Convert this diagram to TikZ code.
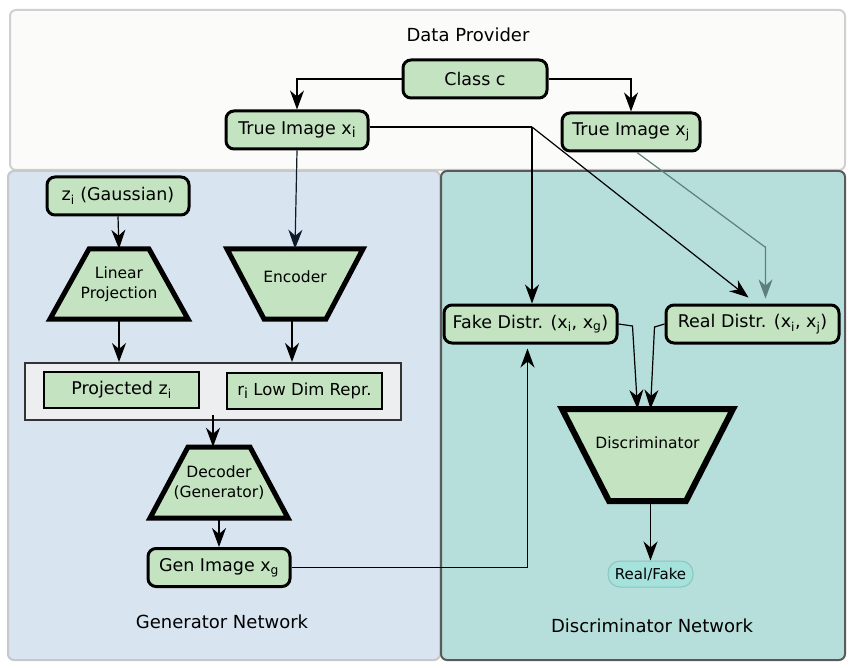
\documentclass[tikz,border=0pt]{standalone}
\usepackage{fontspec}
\setmainfont{DejaVu Sans}
\usepackage{tikz}
\usetikzlibrary{arrows.meta,positioning,calc}
\definecolor{nodegreen}{HTML}{C3E3C1}
\definecolor{providerbg}{HTML}{FBFCFA}
\definecolor{providerline}{HTML}{D0D0D0}
\definecolor{generatorbg}{HTML}{D8E4F0}
\definecolor{generatorline}{HTML}{C8C8C8}
\definecolor{discbg}{HTML}{B6DEDA}
\definecolor{discline}{HTML}{5A5A5A}
\definecolor{latentbg}{HTML}{ECEEF0}
\definecolor{verdictbg}{HTML}{A5E2DC}
\definecolor{verdictline}{HTML}{8CC4BF}
\definecolor{greyarrow}{HTML}{5E7F7D}
\definecolor{navyarrow}{HTML}{0E1B2A}
\newcommand{\lowi}{\raisebox{-0.35ex}{\fontsize{14}{14}\selectfont i}}
\tikzset{
  roundbox/.style={draw, line width=3pt, rounded corners=8pt, fill=nodegreen,
    minimum height=38pt, inner xsep=3pt, font=\fontsize{17.5}{21}\selectfont},
  flatbox/.style={draw, line width=2pt, fill=nodegreen, minimum width=155pt,
    minimum height=36pt, inner sep=2pt},
  trapnode/.style={inner sep=0pt, align=center, font=\fontsize{15.5}{19.5}\selectfont},
  trapline/.style={draw, fill=nodegreen, line join=miter},
  titletext/.style={font=\fontsize{18}{22}\selectfont},
  conn/.style={line width=1.2pt, -{Stealth[length=19pt,width=14pt,inset=6pt]}},
}
\begin{document}
\begin{tikzpicture}[x=1pt,y=-1pt]
  \useasboundingbox (0,0) rectangle (856,668);
  \draw[fill=providerbg, draw=providerline, line width=2pt, rounded corners=6pt] (10,10) rectangle (845,170);
  \draw[fill=generatorbg, draw=generatorline, line width=2pt, rounded corners=6pt] (8,171) rectangle (440,660);
  \draw[fill=discbg, draw=discline, line width=2pt, rounded corners=6pt] (441,171) rectangle (845,660);
  \node[titletext] (providertitle) at (468,35) {Data Provider};
  \node[titletext] (generatortitle) at (222,622) {Generator Network};
  \node[titletext] (disctitle) at (652,626) {Discriminator Network};

  \node[roundbox, minimum width=144pt] (classc) at (475,79) {Class c};
  \node[roundbox, minimum width=142pt] (truei) at (297,130) {True Image x\lowi};
  \node[roundbox, minimum width=138pt] (truej) at (631,132) {True Image x\textsubscript{j}};
  \node[roundbox, minimum width=142pt] (zi) at (118,196) {z\textsubscript{i} (Gaussian)};

  \foreach \cx/\cy/\wtop/\wbot/\ht/\lw in {119/284/30/69/35/5pt, 295/284/68/31/35/5pt,
      219/482.5/31/69/35.5/5pt, 647.5/455/85.5/38.5/46/6pt} {
    \draw[trapline, line width=\lw] (\cx-\wbot,\cy+\ht) -- (\cx-\wtop,\cy-\ht)
      -- (\cx+\wtop,\cy-\ht) -- (\cx+\wbot,\cy+\ht) -- cycle;
  }
  \node[trapnode, minimum width=138pt, minimum height=70pt] (linproj) at (119,284) {Linear\\Projection};
  \node[trapnode, minimum width=136pt, minimum height=70pt, text depth=14pt] (encoder) at (295,284) {Encoder};
  \node[trapnode, minimum width=138pt, minimum height=71pt] (decoder) at (219,482.5) {Decoder\\(Generator)};
  \node[trapnode, minimum width=171pt, minimum height=92pt, text depth=24pt] (disc) at (647.5,455) {Discriminator};

  \node[draw=black!80, line width=2pt, fill=latentbg, minimum width=376pt, minimum height=57pt] (latent) at (213,391.5) {};
  \node[flatbox, font=\fontsize{17.5}{21}\selectfont] (projz) at (121.5,390) {Projected z\textsubscript{i}};
  \node[flatbox, font=\fontsize{16.5}{20}\selectfont] (lowdim) at (304.5,391) {r\lowi{} Low Dim Repr.};

  \node[roundbox, minimum width=142pt] (genimg) at (219,567.5) {Gen Image x\textsubscript{g}};
  \node[roundbox, minimum width=173pt] (fake) at (530.5,324) {Fake Distr. (x\textsubscript{i}, x\textsubscript{g})};
  \node[roundbox, minimum width=173pt] (real) at (752.5,324) {Real Distr. (x\textsubscript{i}, x\textsubscript{j})};
  \node[draw=verdictline, line width=1pt, fill=verdictbg, rounded corners=12pt, minimum width=85pt,
    minimum height=26pt, inner sep=1pt, font=\fontsize{15}{18}\selectfont] (verdict) at (650.5,574) {Real/Fake};

  \coordinate (split) at (532,127);
  \coordinate (bend) at (765,247);
  \draw[conn] (classc.west) -| (truei.north);
  \draw[conn] (classc.east) -| (truej.north);
  \draw[line width=1.2pt] (truei.east |- split) -- (split);
  \draw[conn] (split) -- (split |- fake.north);
  \draw[conn] (split) -- ($(real.north)+(-4,-6)$);
  \draw[conn, greyarrow] ([xshift=6pt]truej.south) -- (bend) -- ($(real.north |- bend)+(13,0)$) -- ($(real.north)+(13,-5)$);
  \draw[conn, navyarrow] (truei.south) -- (encoder.north);
  \draw[conn] (zi.south) -- (linproj.north);
  \draw[conn] (linproj.south) -- (linproj.south |- latent.north);
  \draw[conn] ([xshift=-3pt]encoder.south) -- ([xshift=-3pt]encoder.south |- latent.north);
  \draw[conn] ([yshift=6pt]latent.south) -- (latent.south |- decoder.north);
  \draw[conn] (decoder.south) -- (genimg.north);
  \draw[conn] (genimg.east) -| ([xshift=-3pt,yshift=-4pt]fake.south);
  \draw[conn] (fake.east) -- ++(14,2) -- ([xshift=-10pt]disc.north);
  \draw[conn] (real.west) -- ++(-10,3) -- ([xshift=3pt]disc.north);
  \draw[conn] ([xshift=3pt]disc.south) -- (verdict.north);
\end{tikzpicture}
\end{document}
